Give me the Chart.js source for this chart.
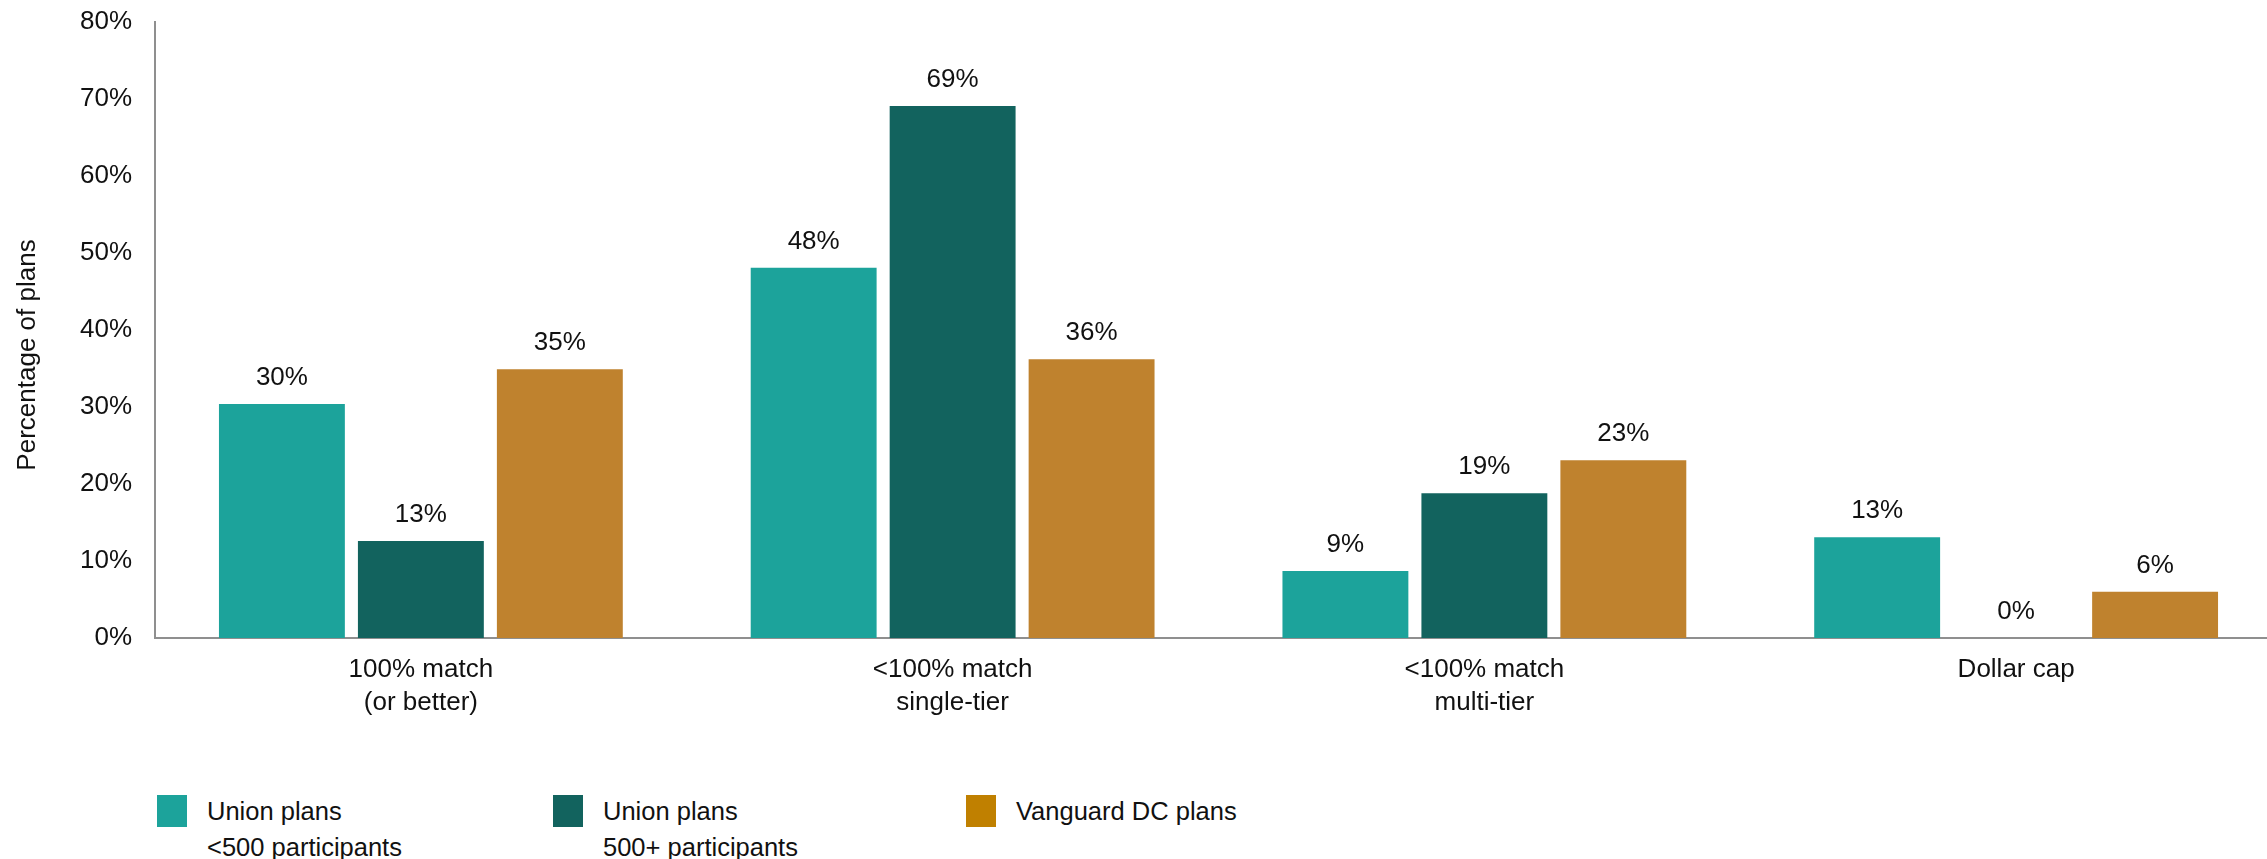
<!DOCTYPE html>
<html>
<head>
<meta charset="utf-8">
<script src="https://cdn.jsdelivr.net/npm/chart.js@4.4.1/dist/chart.umd.min.js"></script>
<style>
  body { margin: 0; background: #fff; overflow: hidden; }
  #wrap { position: absolute; left: 0; top: 0; width: 2290px; height: 760px; }
  #legend { position: absolute; left: 0; top: 795px; font-family: "Liberation Sans", Arial, sans-serif; font-size: 25.5px; color: #111; }
  .item { position: absolute; top: 0; white-space: nowrap; }
  .box { position: absolute; left: 0; top: 0; width: 30px; height: 32px; }
  .txt { position: absolute; left: 50px; top: -2px; line-height: 36px; }
</style>
</head>
<body>
<div id="wrap"><canvas id="myChart" width="2290" height="760"></canvas></div>
<div id="legend"></div>
<script>
const categories = [
  ['100% match', '(or better)'],
  ['<100% match', 'single-tier'],
  ['<100% match', 'multi-tier'],
  'Dollar cap'
];
const seriesNames = [
  ['Union plans', '<500 participants'],
  ['Union plans', '500+ participants'],
  ['Vanguard DC plans']
];
const unionSmall = [30.4, 48.1, 8.7, 13.1];
const unionLarge = [12.6, 69.1, 18.8, 0];
const vanguard = [34.9, 36.2, 23.1, 6.0];
const yTicks = [0, 10, 20, 30, 40, 50, 60, 70, 80];
const yTitle = 'Percentage of plans';

const barColors = ['#1ca39b', '#12635e', '#bf822e'];
const legendColors = ['#1ca39b', '#12635e', '#c08000'];

const ctx = document.getElementById('myChart');
const fontFamily = '"Liberation Sans", Arial, sans-serif';

// value labels above bars + y title placed a little below centre, like the original
const extras = {
  id: 'extras',
  afterDatasetsDraw(chart) {
    const c = chart.ctx;
    c.save();
    c.font = '26px ' + fontFamily;
    c.fillStyle = '#111';
    c.textAlign = 'center';
    c.textBaseline = 'alphabetic';
    chart.data.datasets.forEach((ds, i) => {
      chart.getDatasetMeta(i).data.forEach((bar, j) => {
        c.fillText(Math.round(ds.data[j]) + '%', bar.x, bar.y - 19);
      });
    });
    c.translate(28, 355);
    c.rotate(-Math.PI / 2);
    c.textBaseline = 'middle';
    c.fillText(yTitle, 0, 0);
    c.restore();
  }
};

const font = { family: fontFamily, size: 26 };

const chart = new Chart(ctx, {
  type: 'bar',
  data: {
    labels: categories,
    datasets: [
      { label: seriesNames[0].join(' '), data: unionSmall, backgroundColor: barColors[0] },
      { label: seriesNames[1].join(' '), data: unionLarge, backgroundColor: barColors[1] },
      { label: seriesNames[2].join(' '), data: vanguard, backgroundColor: barColors[2] }
    ]
  },
  options: {
    responsive: false,
    devicePixelRatio: 1,
    animation: false,
    layout: { padding: { top: 22, right: 8, left: 0, bottom: 0 } },
    datasets: { bar: { categoryPercentage: 0.784, barPercentage: 0.906 } },
    plugins: {
      legend: { display: false },
      tooltip: { enabled: false }
    },
    scales: {
      x: {
        grid: { display: false, drawTicks: false },
        border: { display: true, color: '#8f8f8f', width: 2 },
        ticks: { color: '#111', font: { ...font, lineHeight: 1.27 }, padding: 15, maxRotation: 0, autoSkip: false },
        afterFit(scale) { scale.height = 122; }
      },
      y: {
        min: 0,
        max: 80,
        afterBuildTicks(scale) { scale.ticks = yTicks.map(v => ({ value: v })); },
        grid: { display: false, drawTicks: false },
        border: { display: true, color: '#8f8f8f', width: 2 },
        ticks: { color: '#111', font: font, padding: 23, callback: v => v + '%' },
        afterFit(scale) {
          scale.width = 155;
          scale.paddingTop = 0;
          scale.paddingBottom = 0;
        }
      }
    }
  },
  plugins: [extras]
});

const legend = document.getElementById('legend');
const legendX = [157, 553, 966];
seriesNames.forEach((name, i) => {
  const item = document.createElement('div');
  item.className = 'item';
  item.style.left = legendX[i] + 'px';
  item.innerHTML = '<div class="box" style="background:' + legendColors[i] + '"></div>' +
    '<div class="txt">' + name.map(s => s.replace('<', '&lt;')).join('<br>') + '</div>';
  legend.appendChild(item);
});
</script>
</body>
</html>
